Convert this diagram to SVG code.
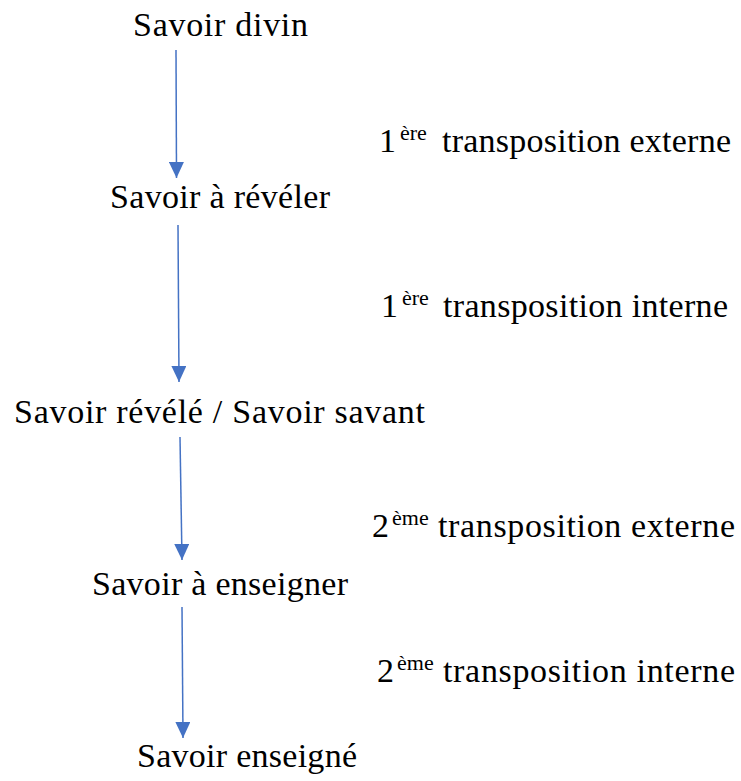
<svg xmlns="http://www.w3.org/2000/svg" width="741" height="781" viewBox="0 0 741 781">
<style>
.t{font-family:"Liberation Serif","Times New Roman",serif;font-size:34px;fill:#000}
.s{font-family:"Liberation Serif","Times New Roman",serif;font-size:22px;fill:#000}
.c{stroke:#4472C4;stroke-width:1.5;fill:none}
</style>
<defs>
<marker id="ah" markerUnits="userSpaceOnUse" markerWidth="16" markerHeight="15" refX="16" refY="7.5" orient="auto">
<path d="M0,0 L16,7.5 L0,15 z" fill="#4472C4"/>
</marker>
</defs>
<rect width="741" height="781" fill="#fff"/>
<g id="connectors">
<line class="c" x1="176" y1="50" x2="176.5" y2="178" marker-end="url(#ah)"/>
<line class="c" x1="178" y1="225" x2="179" y2="382" marker-end="url(#ah)"/>
<line class="c" x1="180" y1="437" x2="182" y2="560" marker-end="url(#ah)"/>
<line class="c" x1="182" y1="607" x2="183" y2="738" marker-end="url(#ah)"/>
</g>
<g id="n1"><text class="t" x="133" y="36" textLength="175" lengthAdjust="spacing">Savoir divin</text></g>
<g id="n2"><text class="t" x="110" y="208" textLength="220" lengthAdjust="spacing">Savoir à révéler</text></g>
<g id="n3"><text class="t" x="14" y="423" textLength="411" lengthAdjust="spacing">Savoir révélé / Savoir savant</text></g>
<g id="n4"><text class="t" x="92" y="595" textLength="256" lengthAdjust="spacing">Savoir à enseigner</text></g>
<g id="n5"><text class="t" x="137" y="767" textLength="220" lengthAdjust="spacing">Savoir enseigné</text></g>
<g id="l1">
<text class="t" x="379" y="152">1</text>
<text class="s" x="400" y="140">ère</text>
<text class="t" x="442" y="152" textLength="289" lengthAdjust="spacing">transposition externe</text>
</g>
<g id="l2">
<text class="t" x="381" y="317">1</text>
<text class="s" x="402" y="305">ère</text>
<text class="t" x="443" y="317" textLength="285" lengthAdjust="spacing">transposition interne</text>
</g>
<g id="l3">
<text class="t" x="372" y="537">2</text>
<text class="s" x="392" y="525">ème</text>
<text class="t" x="438" y="537" textLength="297" lengthAdjust="spacing">transposition externe</text>
</g>
<g id="l4">
<text class="t" x="377" y="682">2</text>
<text class="s" x="397" y="670">ème</text>
<text class="t" x="443" y="682" textLength="292" lengthAdjust="spacing">transposition interne</text>
</g>
</svg>
